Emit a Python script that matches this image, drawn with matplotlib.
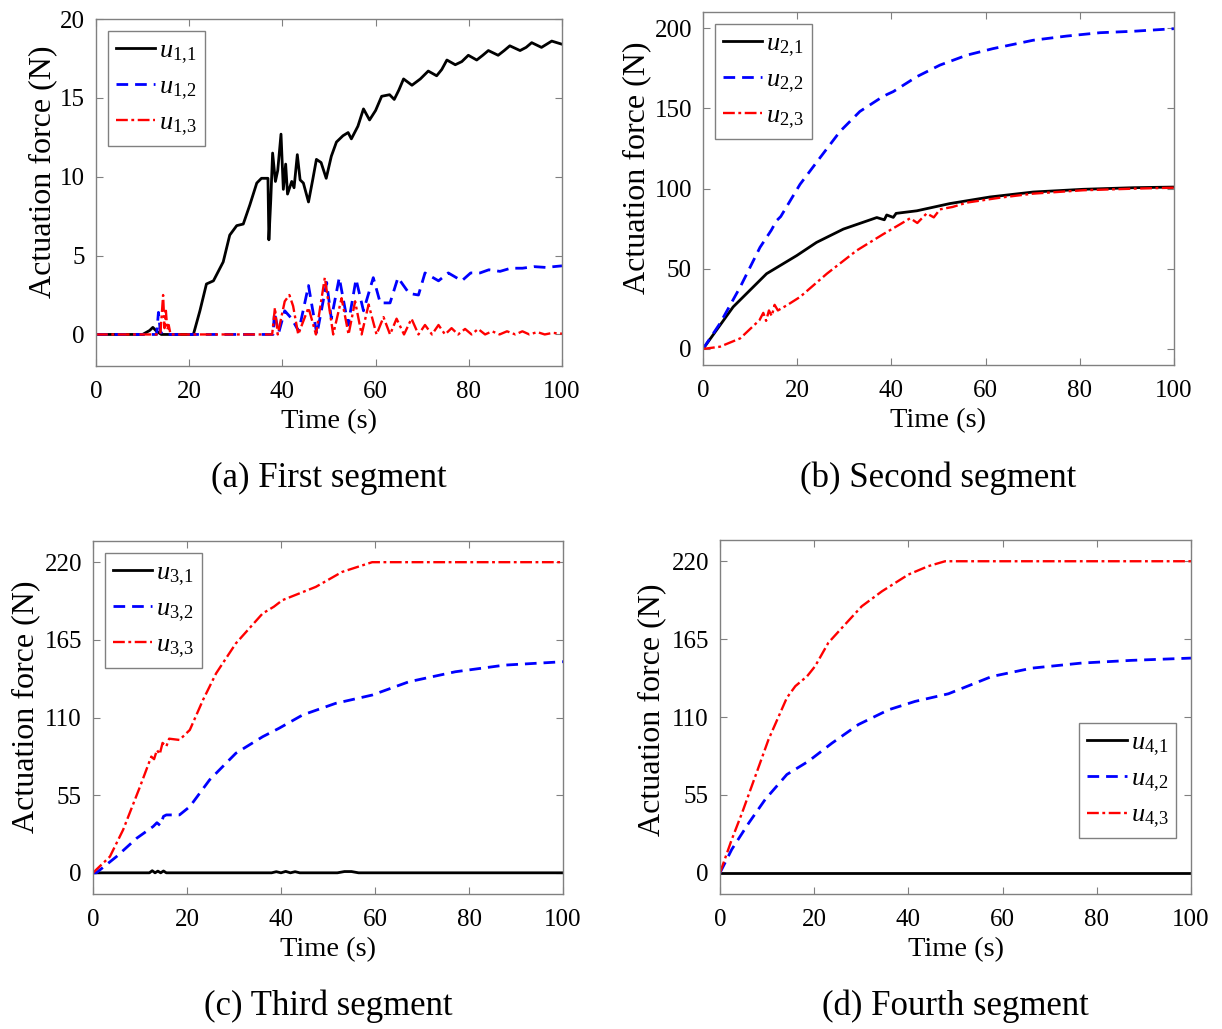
import numpy as np
import matplotlib
matplotlib.use("Agg")
import matplotlib.pyplot as plt

plt.rcParams['font.family'] = ['Liberation Serif', 'DejaVu Serif']
plt.rcParams['mathtext.fontset'] = 'custom'
plt.rcParams['mathtext.rm'] = 'Liberation Serif'
plt.rcParams['mathtext.it'] = 'Liberation Serif:italic'

# ---- (a) first segment ----
t11 = [0, 10, 11.5, 12.2, 13, 14, 20.9, 22.3, 23.7, 25.2, 27.3, 28.7, 30.2, 31.6, 33.0, 34.5, 35.5,
       36.9, 37.1, 37.5, 37.9, 38.5, 39.0, 39.7, 40.2, 40.7, 41.1, 42, 42.5, 43.2, 43.8, 44.5, 45.6,
       46.5, 47.3, 48.3, 49.4, 50.5, 51.6, 53, 54.1, 54.8, 56.2, 57.4, 58.7, 60.0, 61.3, 63, 64.0, 65.0,
       66, 67.8, 69.6, 71.3, 73.1, 74.2, 75.3, 77.1, 78.5, 79.9, 81.7, 83.0, 84.2, 86.3, 87.6, 88.8,
       91, 92.3, 93.5, 95.6, 96.7, 97.8, 100]
u11 = [0, 0, 0.25, 0.45, 0.2, 0, 0, 1.5, 3.2, 3.4, 4.6, 6.3, 6.9, 7.0, 8.2, 9.6, 9.9,
       9.9, 6.0, 8.5, 11.5, 9.7, 10.4, 12.7, 9.2, 10.8, 8.9, 9.7, 9.3, 11.4, 9.8, 9.6, 8.4,
       9.8, 11.1, 10.9, 9.9, 11.3, 12.2, 12.6, 12.8, 12.4, 13.2, 14.3, 13.6, 14.2, 15.1, 15.2, 14.9, 15.5,
       16.2, 15.8, 16.2, 16.7, 16.4, 16.8, 17.4, 17.1, 17.3, 17.7, 17.4, 17.7, 18.0, 17.7, 18.0, 18.3,
       18.0, 18.2, 18.5, 18.2, 18.4, 18.6, 18.4]
t12 = [0, 13.0, 13.4, 13.8, 14.3, 38.0, 38.3, 39.2, 40.5, 42.0, 43.5, 45.6, 47.4, 49.5, 50.5, 52.2,
       54.1, 55.8, 57.4, 59.5, 61.0, 63.1, 64.8, 67.2, 69.2, 70.6, 73.5, 75.6, 78.5, 80.4, 82.4, 84.3,
       86.7, 89.0, 91.5, 94, 96.5, 100]
u12 = [0, 0, 1.4, 0.2, 0, 0, 1.4, 0.1, 1.5, 1.0, 0.2, 3.1, 0, 3.3, 1.0, 3.6,
       0.6, 3.5, 1.5, 3.6, 2.0, 2.0, 3.6, 2.6, 2.5, 3.9, 3.4, 3.9, 3.4, 3.9, 3.9, 4.1,
       4.0, 4.2, 4.2, 4.3, 4.25, 4.35]
t13 = [0, 13.8, 14.1, 14.4, 14.7, 15.0, 15.3, 15.6, 16.0, 37.8, 38.4, 39.0, 40.5, 41.5, 42.3, 43.4,
       45.6, 47.2, 49.1, 50.9, 52.7, 54.2, 55.6, 57.0, 58.5, 60.2, 61.7, 63.1, 64.5, 66.1, 67.7,
       69.2, 70.6, 72.1, 73.5, 74.9, 76.3, 77.7, 79.2, 80.6, 82, 83.5, 85, 86.6, 88.2, 90, 91.5,
       93, 94.7, 96.3, 98, 100]
u13 = [0, 0, 1.2, 2.5, 0.4, 1.5, 0.3, 0.6, 0, 0, 1.7, 0, 2.1, 2.5, 1.8, 0,
       1.7, 0, 3.6, 0, 2.3, 0, 2.1, 0, 1.9, 0, 1.1, 0, 1.0, 0, 1.0,
       0, 0.6, 0, 0.6, 0, 0.4, 0, 0.35, 0, 0.35, 0, 0.2, 0, 0.2, 0, 0.2,
       0, 0.15, 0, 0.1, 0.05]

# ---- (b) second segment ----
t21 = [0, 6.4, 13.5, 19.9, 24.1, 29.8, 36.9, 38.5, 39.0, 40.4, 41.0, 45.4, 52.4, 60.9, 70.1, 80.7, 91.4, 100]
u21 = [0, 26.2, 46.9, 58.2, 66.4, 74.7, 81.9, 80.5, 83.5, 82.0, 84.5, 86.1, 90.6, 94.7, 97.8, 99.5, 100.5, 100.9]
t22 = [0, 3.6, 7.9, 12.1, 14.5, 15.6, 16.5, 20.6, 24.8, 29.1, 33.3, 37.6, 39.0, 40.4, 45.4, 50.3, 56,
       61.6, 70.1, 77.2, 84.3, 91.4, 100]
u22 = [0, 15.9, 38.6, 63.3, 74.0, 79.9, 82.5, 102.6, 119, 135.6, 148, 156.2, 158.5, 160.4, 169.7, 176.9,
       183.1, 187.2, 192.4, 195, 197.1, 198, 199.6]
t23 = [0, 3.6, 7.9, 12.0, 12.8, 13.4, 14.0, 14.6, 15.2, 15.9, 17.8, 20.6, 26.3, 32.6, 38.3, 41.9, 44.0,
       45.5, 47.5, 49.0, 50.3, 53.0, 56, 63.1, 70.1, 80.7, 91.4, 100]
u23 = [0, 1.4, 6.6, 18.0, 22.5, 17.5, 24.0, 20.5, 27.5, 24.0, 27.2, 32.4, 46.9, 61.3, 71.6, 77.8, 81.5,
       78.5, 84.5, 82.0, 87, 88.5, 91.2, 94.3, 96.8, 98.9, 99.9, 100.5]

# ---- (c) third segment ----
t31 = [0, 12.0, 12.6, 13.2, 13.8, 14.4, 15.0, 15.6, 16.2, 38, 39, 40, 41, 42, 43, 44, 52, 53.5, 55, 56.5, 100]
u31 = [0, 0, 1.5, 0, 1.2, 0, 1.3, 0, 0, 0, 0.8, 0, 1.0, 0, 0.8, 0, 0, 0.9, 0.9, 0, 0]
t32 = [0, 0.7, 5.0, 9.3, 12.8, 13.6, 14.3, 15.0, 15.6, 18.4, 20.6, 24.8, 30.4, 36.1, 39.6, 44.6, 51.6,
       59.4, 67.2, 77.1, 87.6, 100]
u32 = [0, 0, 11.5, 24.5, 32.8, 35.5, 33.5, 40.0, 41, 41, 46.9, 65.8, 84.7, 96.4, 102.4, 111.8, 120,
       125.9, 135.3, 142.4, 147.1, 149.5]
t33 = [0, 3.6, 6.4, 10, 12.4, 13.0, 13.6, 14.2, 14.8, 15.6, 16.2, 18.4, 20.6, 23.4, 26.2, 30.4, 36.1,
       38.5, 40.3, 47.4, 53, 59.4, 100]
u33 = [0, 11.5, 30.4, 61, 82.3, 80.5, 87.0, 84.0, 92.0, 89.5, 95.0, 94.1, 101.2, 122.4, 141.3, 162.5, 183.7,
       188.5, 193.1, 202.5, 213.1, 220, 220]

# ---- (d) fourth segment ----
t41 = [0, 100]
u41 = [0, 0]
t42 = [0, 2.5, 6.1, 9.6, 14.2, 18.8, 23.8, 29.4, 35.8, 41.4, 48.5, 57.7, 66.2, 76.8, 87.4, 100]
u42 = [0, 16.5, 35.1, 51.8, 69.4, 78.8, 91.6, 104.7, 115.1, 121, 126.4, 138.6, 144.5, 148.1, 150, 151.6]
t43 = [0, 2.5, 4.7, 7.5, 10.3, 14.2, 16, 18.5, 20.2, 23, 25.9, 30.1, 34.4, 40, 44.2, 47.8, 100]
u43 = [0, 23.5, 42.4, 68.2, 94.1, 123.6, 131.8, 138.8, 145.9, 162.4, 173, 188.2, 198.8, 210.6, 216.5, 220, 220]

panels = [
    ([t11, t12, t13], [u11, u12, u13], 1, (-2, 20), [0, 5, 10, 15, 20], '(a) First segment'),
    ([t21, t22, t23], [u21, u22, u23], 2, (-10, 210), [0, 50, 100, 150, 200], '(b) Second segment'),
    ([t31, t32, t33], [u31, u32, u33], 3, (-15, 235), [0, 55, 110, 165, 220], '(c) Third segment'),
    ([t41, t42, t43], [u41, u42, u43], 4, (-15, 235), [0, 55, 110, 165, 220], '(d) Fourth segment'),
]

# axes rectangles in figure pixels: left, top, right, bottom
W, H = 1222, 1029
rects = [(96, 19, 562, 366), (703, 12, 1174, 365), (93, 541, 563, 894), (720, 540, 1191, 894)]
# ylabel centre x (pixels) and vertical position in axes fraction
ylab_x = [43, 637, 26, 652]
ylab_y = [0.56, 0.56, 0.53, 0.52]

styles = [dict(color='black', ls='-', lw=2.0),
          dict(color='blue', ls=(0, (4.2, 2.5)), lw=2.0),
          dict(color='red', ls=(0, (5, 1.5, 1.2, 1.5)), lw=1.7)]

fig = plt.figure(figsize=(W / 100, H / 100), dpi=100)

for i, (ts, us, k, ylim, yt, title) in enumerate(panels):
    l, t, r, b = rects[i]
    ax = fig.add_axes([l / W, 1 - b / H, (r - l) / W, (b - t) / H])
    for j in range(3):
        ax.plot(ts[j], us[j], label=r'$u_{%d{,}%d}$' % (k, j + 1), **styles[j])
    ax.set_xlim(0, 100)
    ax.set_ylim(*ylim)
    ax.set_xticks([0, 20, 40, 60, 80, 100])
    ax.set_yticks(yt)
    ax.tick_params(direction='in', top=True, right=True, length=5, width=0.8,
                   color='#808080', labelsize=18)
    ax.tick_params(axis='x', pad=11)
    ax.tick_params(axis='y', pad=8)
    for s in ax.spines.values():
        s.set_color('#808080')
        s.set_linewidth(1.0)
    ax.set_xlabel('Time (s)', fontsize=20.5, labelpad=4)
    ax.set_ylabel('Actuation force (N)', fontsize=23, va='center')
    ax.yaxis.set_label_coords((ylab_x[i] - l) / (r - l), ylab_y[i])
    legkw = dict(fontsize=19, handlelength=1.5, handletextpad=0.15, labelspacing=0.35,
                 borderpad=0.3, fancybox=False, framealpha=1)
    if i == 3:
        leg = ax.legend(loc='lower right', bbox_to_anchor=(0.985, 0.135), borderaxespad=0.3, **legkw)
    else:
        leg = ax.legend(loc='upper left', borderaxespad=0.45, **legkw)
    leg.get_frame().set_edgecolor('#808080')
    leg.get_frame().set_linewidth(1.0)
    cx = (l + r) / 2 / W
    ty = 478 if i < 2 else 1006
    fig.text(cx, 1 - ty / H, title, ha='center', va='center', fontsize=25)

fig.savefig('out.png', dpi=100)
